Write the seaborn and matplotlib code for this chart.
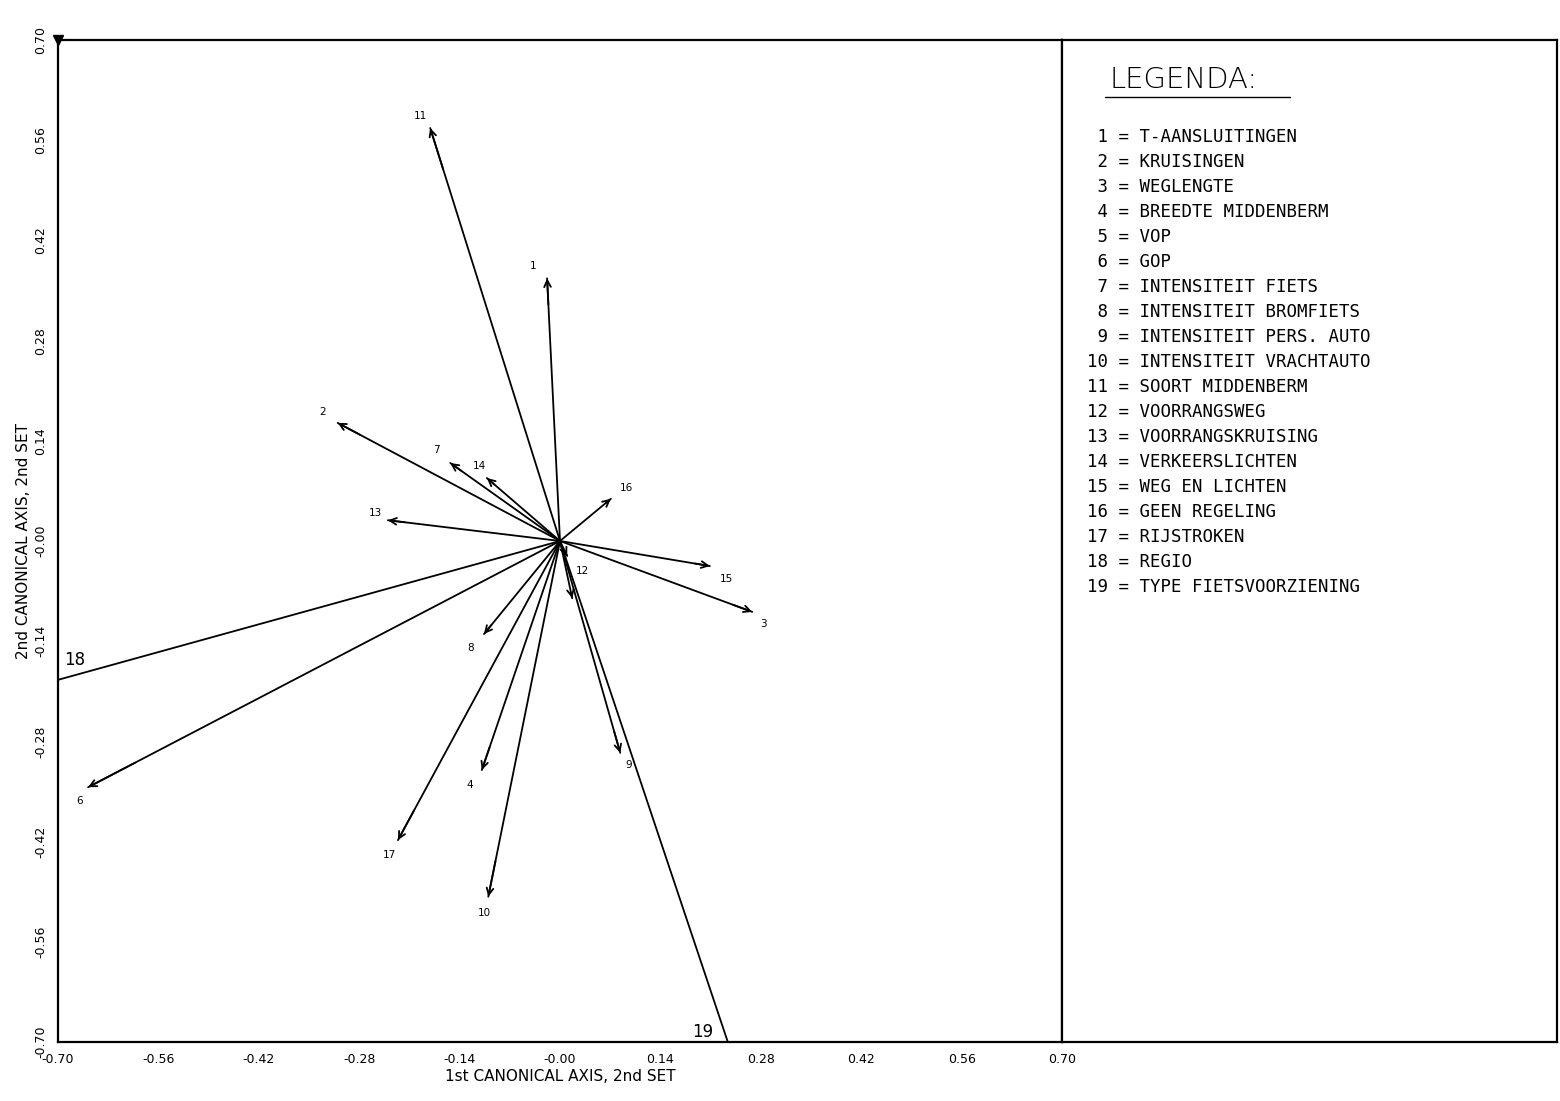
import numpy as np
import pandas as pd
import seaborn as sns
import matplotlib
matplotlib.use('Agg')
import matplotlib.pyplot as plt

# vector end points (canonical loadings)
var_ids = list(range(1, 20))
x_load = [-0.018, -0.310, 0.268, -0.109, 0.017, -0.658, -0.153, -0.106, 0.084, -0.100,
          -0.181, 0.010, -0.240, -0.102, 0.209, 0.071, -0.226, -0.700, 0.234]
y_load = [0.367, 0.165, -0.099, -0.320, -0.080, -0.344, 0.109, -0.130, -0.296, -0.497,
          0.577, -0.021, 0.029, 0.088, -0.035, 0.059, -0.418, -0.194, -0.700]
var_names = ['T-AANSLUITINGEN', 'KRUISINGEN', 'WEGLENGTE', 'BREEDTE MIDDENBERM', 'VOP',
             'GOP', 'INTENSITEIT FIETS', 'INTENSITEIT BROMFIETS', 'INTENSITEIT PERS. AUTO',
             'INTENSITEIT VRACHTAUTO', 'SOORT MIDDENBERM', 'VOORRANGSWEG',
             'VOORRANGSKRUISING', 'VERKEERSLICHTEN', 'WEG EN LICHTEN', 'GEEN REGELING',
             'RIJSTROKEN', 'REGIO', 'TYPE FIETSVOORZIENING']
tick_vals = [-0.70, -0.56, -0.42, -0.28, -0.14, 0.00, 0.14, 0.28, 0.42, 0.56, 0.70]
tick_labels = ['-0.70', '-0.56', '-0.42', '-0.28', '-0.14', '-0.00',
               '0.14', '0.28', '0.42', '0.56', '0.70']

# label offsets in points (layout only), vector 5 has no visible label
label_off = [(-10, 9), (-11, 8), (8, -9), (-9, -11), None, (-6, -10), (-10, 9), (-10, -10),
             (6, -9), (-3, -12), (-7, 9), (11, -11), (-9, 5), (-5, 9), (12, -9), (11, 8),
             (-6, -11), (12, 14), (-18, 7)]
clipped = [18, 19]

sns.set_theme(style='white')
plt.rcParams['font.family'] = ['DejaVu Sans']
plt.rcParams['text.color'] = 'black'
plt.rcParams['axes.labelcolor'] = 'black'
plt.rcParams['xtick.color'] = 'black'
plt.rcParams['ytick.color'] = 'black'

fig = plt.figure(figsize=(15.6, 11.01), dpi=100)
L, R = 58 / 1560, 1062 / 1560
B, T = 1 - 1042 / 1101, 1 - 40 / 1101
ax = fig.add_axes([L, B, R - L, T - B])
lax = fig.add_axes([R, B, 1557 / 1560 - R, T - B])

# long table: each vector is a line from origin to its end point
rows = []
for i, x, y in zip(var_ids, x_load, y_load):
    rows.append({'var': i, 'step': 0, 'x': 0.0, 'y': 0.0})
    rows.append({'var': i, 'step': 1, 'x': x, 'y': y})
df = pd.DataFrame(rows)
sns.lineplot(data=df, x='x', y='y', units='var', estimator=None, sort=False,
             color='black', lw=1.3, ax=ax)

for i, x, y, off in zip(var_ids, x_load, y_load, label_off):
    if i not in clipped:
        ax.annotate('', xy=(x, y), xytext=(x * 0.9, y * 0.9),
                    arrowprops=dict(arrowstyle='->,head_length=0.4,head_width=0.2',
                                    color='black', lw=1.3, shrinkA=0, shrinkB=0))
    if off is None:
        continue
    fs = 12 if i in clipped else 7.5
    ax.annotate(str(i), xy=(x, y), xytext=off, textcoords='offset points',
                ha='center', va='center', fontsize=fs, color='black')

ax.plot([-0.70], [0.70], marker='v', color='black', ms=7, clip_on=False)

ax.set_xlim(-0.70, 0.70)
ax.set_ylim(-0.70, 0.70)
ax.set_xticks(tick_vals)
ax.set_xticklabels(tick_labels, fontsize=9)
ax.set_yticks(tick_vals)
ax.set_yticklabels(tick_labels, fontsize=9, rotation=90, va='center')
ax.tick_params(axis='both', direction='inout', length=6, width=1, colors='black', pad=5)
ax.set_xlabel('1st CANONICAL AXIS, 2nd SET', fontsize=11, labelpad=2)
ax.set_ylabel('2nd CANONICAL AXIS, 2nd SET', fontsize=11, labelpad=2)
for s in ax.spines.values():
    s.set_color('black')
    s.set_linewidth(1.6)

lax.set_xticks([])
lax.set_yticks([])
lax.set_xlim(0, 1)
lax.set_ylim(0, 1)
for s in lax.spines.values():
    s.set_color('black')
    s.set_linewidth(1.6)

lax.text(0.095, 0.96, 'LEGENDA:', fontsize=21, fontweight='light', va='center',
         ha='left', color='black')
lax.plot([0.087, 0.46], [0.943, 0.943], color='black', lw=1)
for k, (i, name) in enumerate(zip(var_ids, var_names)):
    lax.text(0.05, 0.903 - k * 0.02495, f'{i:>2} = {name}', fontsize=12.5,
             family='DejaVu Sans Mono', va='center', ha='left', color='black')

fig.savefig('out.png', dpi=100)
